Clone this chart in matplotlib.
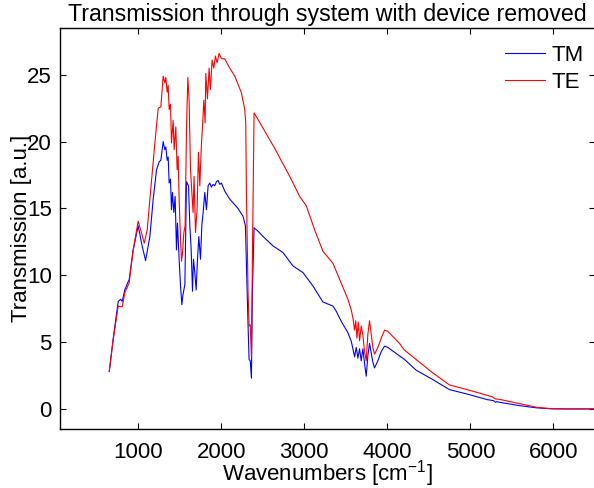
import numpy as np
import matplotlib
matplotlib.use('Agg')
import matplotlib.pyplot as plt

# TM polarisation, wavenumber [cm^-1] and transmission [a.u.]
tm_x = [653, 701, 761, 790, 809, 841, 893, 941, 1001, 1045, 1090, 1142, 1182, 1222,
        1254, 1274, 1302, 1322, 1334, 1350, 1362, 1374, 1390, 1402, 1414, 1430, 1446,
        1462, 1474, 1494, 1511, 1527, 1539, 1563, 1583, 1607, 1623, 1639, 1655, 1667,
        1683, 1699, 1715, 1731, 1751, 1767, 1783, 1803, 1823, 1843, 1863, 1883, 1903,
        1923, 1943, 1963, 1983, 2003, 2043, 2103, 2203, 2264, 2292, 2308, 2324, 2336,
        2350, 2364, 2376, 2396, 2444, 2504, 2624, 2744, 2864, 2985, 3105, 3225, 3345,
        3386, 3446, 3526, 3566, 3586, 3606, 3626, 3646, 3666, 3686, 3706, 3726, 3746,
        3766, 3786, 3806, 3826, 3846, 3886, 3927, 3967, 4007, 4207, 4347, 4547, 4747,
        4988, 5200, 5280, 5300, 5320, 5349, 5589, 5800, 5980, 6200, 6500]
tm_y = [2.8, 5.3, 8.05, 8.2, 8.05, 8.93, 9.7, 11.9, 13.7, 12.3, 11.1, 12.9, 15.7, 17.9,
        18.5, 18.6, 20.0, 19.4, 19.6, 18.6, 18.85, 16.9, 17.2, 14.9, 16.2, 14.7, 15.9,
        11.9, 13.9, 11.2, 9.2, 7.8, 8.5, 9.3, 17.0, 16.7, 13.7, 11.9, 8.8, 11.2,
        10.2, 8.9, 11.2, 12.9, 11.2, 13.7, 14.7, 16.2, 14.9, 16.7, 16.9, 16.6, 16.8,
        16.7, 17.0, 17.1, 16.8, 16.9, 16.3, 15.7, 15.0, 14.4, 13.7, 9.9, 6.2, 3.7,
        3.6, 2.3, 8.7, 13.55, 13.3, 12.9, 12.2, 11.7, 10.7, 10.2, 9.2, 8.0, 7.7,
        7.3, 6.55, 5.7, 5.06, 4.5, 3.9, 4.6, 3.8, 4.5, 3.6, 4.5, 3.4, 2.45,
        4.0, 4.9, 4.2, 3.5, 3.07, 3.6, 4.3, 4.7, 4.6, 3.7, 2.9, 2.2, 1.45,
        1.07, 0.7, 0.62, 0.5, 0.55, 0.5, 0.25, 0.08, 0.01, 0.0, 0.0]

# TE polarisation
te_x = [653, 701, 761, 790, 809, 841, 893, 941, 1001, 1040, 1074, 1110, 1142, 1202,
        1242, 1274, 1302, 1322, 1334, 1350, 1362, 1374, 1390, 1402, 1422, 1434, 1454,
        1470, 1482, 1494, 1511, 1523, 1535, 1551, 1566, 1583, 1599, 1614, 1631, 1647,
        1662, 1674, 1691, 1710, 1727, 1743, 1763, 1775, 1791, 1807, 1815, 1835, 1855,
        1871, 1891, 1911, 1931, 1951, 1975, 2003, 2043, 2103, 2164, 2244, 2284, 2296,
        2304, 2324, 2336, 2350, 2364, 2376, 2396, 2444, 2644, 2825, 2945, 3025, 3125,
        3225, 3345, 3446, 3526, 3566, 3586, 3606, 3620, 3634, 3650, 3666, 3686, 3706,
        3726, 3746, 3766, 3786, 3806, 3826, 3846, 3886, 3927, 3967, 4007, 4147, 4207,
        4347, 4547, 4747, 4988, 5268, 5300, 5349, 5589, 5800, 5980, 6200, 6500]
te_y = [2.8, 5.2, 7.7, 7.65, 7.65, 8.7, 9.45, 11.9, 14.05, 13.2, 12.4, 13.4, 15.7, 19.9,
        22.5, 22.6, 24.9, 24.4, 24.8, 23.7, 24.2, 22.4, 22.8, 19.9, 21.6, 19.4, 21.1,
        17.9, 18.9, 15.7, 12.7, 11.05, 11.7, 13.2, 13.7, 21.1, 24.8, 23.1, 17.9, 16.2,
        14.7, 17.4, 13.2, 14.9, 19.2, 16.7, 19.9, 21.1, 23.1, 21.4, 25.1, 23.2, 25.5,
        23.9, 26.1, 25.5, 26.4, 25.9, 26.6, 26.2, 26.2, 25.5, 24.9, 23.65, 22.4, 21.4,
        16.2, 8.7, 6.2, 6.3, 3.9, 11.2, 22.15, 21.65, 19.5, 17.4, 15.9, 15.2, 13.4,
        11.8, 10.9, 9.4, 8.2, 7.4, 6.8, 5.9, 6.6, 5.3, 6.5, 5.1, 6.2, 5.5,
        4.3, 3.6, 5.6, 6.6, 5.6, 4.6, 4.1, 4.6, 5.3, 5.9, 5.8, 4.9, 4.4,
        3.7, 2.7, 1.8, 1.4, 0.9, 0.75, 0.72, 0.4, 0.12, 0.02, 0.0, 0.0]

x_ticks = [1000, 2000, 3000, 4000, 5000, 6000]
y_ticks = [0, 5, 10, 15, 20, 25]

plt.rcParams['font.family'] = ['Liberation Sans', 'DejaVu Sans']
plt.rcParams['mathtext.fontset'] = 'custom'
plt.rcParams['mathtext.rm'] = 'Liberation Sans'
plt.rcParams['mathtext.default'] = 'regular'
plt.rc('font', size=16)

fig = plt.figure(figsize=(5.94, 4.88), dpi=100)
ax = fig.add_axes([60 / 594, 59 / 488, 535 / 594, 401 / 488])
ax.plot(tm_x, tm_y, color='b', lw=0.8, label='TM')
ax.plot(te_x, te_y, color='r', lw=0.8, label='TE')

ax.set_xlim(60, 6500)
ax.set_ylim(-1.5, 28.5)
ax.set_xticks(x_ticks)
ax.set_yticks(y_ticks)
ax.tick_params(direction='in', length=4, width=0.8, top=True, right=True, pad=6)
ax.tick_params(axis='x', pad=9)
for s in ax.spines.values():
    s.set_linewidth(1.0)

ax.set_title('Transmission through system with device removed', fontsize=16.7, pad=5)
ax.set_xlabel('Wavenumbers [cm$^{-1}$]', labelpad=-3.5)
ax.set_ylabel('Transmission [a.u.]', labelpad=-4)
ax.legend(loc='upper right', frameon=False, handlelength=1.8, handletextpad=0.3,
          labelspacing=0.25, borderaxespad=0.1, bbox_to_anchor=(1.0, 0.985))

plt.savefig('out.png', dpi=100)
